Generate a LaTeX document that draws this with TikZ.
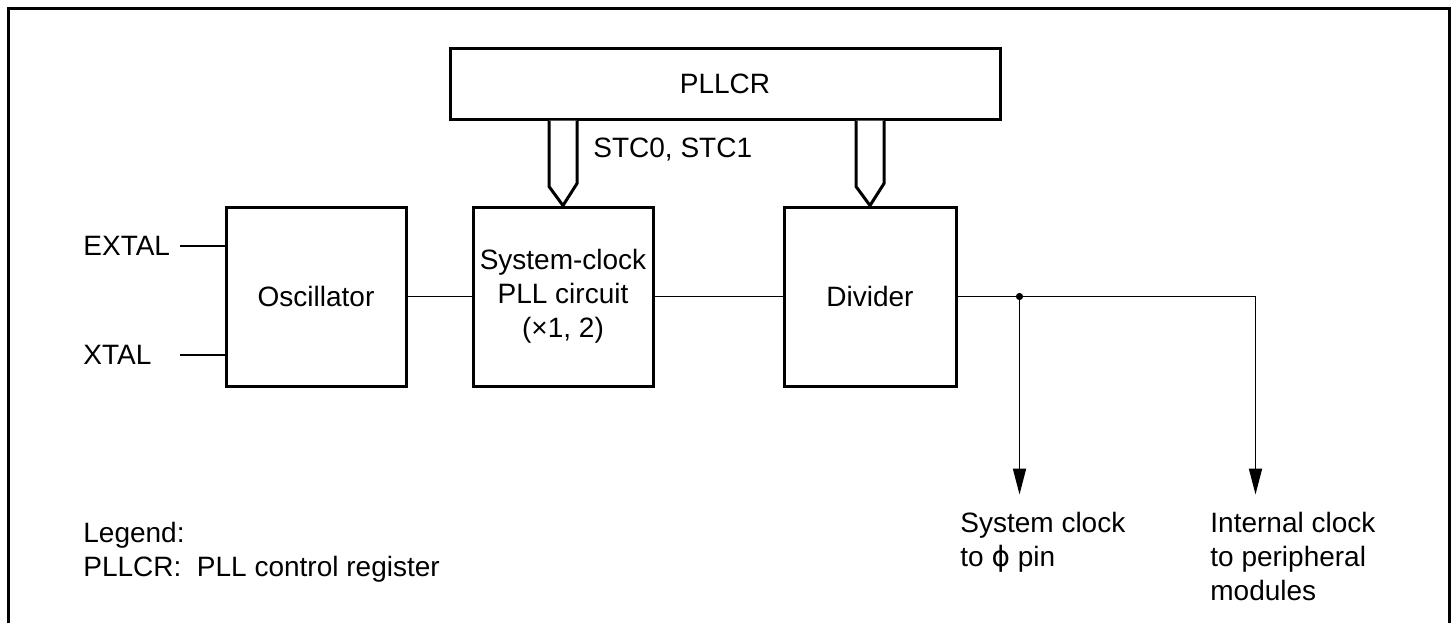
\documentclass[tikz,border=0pt]{standalone}
\usepackage{fontspec}
\setmainfont{Liberation Sans}
\newfontfamily\symfont{DejaVu Sans}
\usetikzlibrary{arrows.meta,calc,positioning}

\begin{document}
\begin{tikzpicture}[x=0.5pt,y=-0.5pt,>={Triangle[length=13pt,width=6.5pt]},
  every node/.style={font=\fontsize{14}{17}\selectfont},
  blk/.style={draw,line width=1.5pt,minimum width=90pt,minimum height=89.5pt,align=center,inner sep=0pt},
  bus/.style={draw,line width=1.5pt,fill=white,line join=miter},
  sig/.style={line width=0.9pt},
  lbl/.style={inner sep=0pt,align=left}]
\useasboundingbox (0,0) rectangle (1455,623);
\draw[line width=1.7pt] (8.5,623) -- (8.5,8.5) -- (1449.5,8.5) -- (1449.5,623);
% blocks
\node[blk] (osc) at (316,296.5) {Oscillator};
\node[blk,right=32pt of osc] (pll) {System-clock\\PLL circuit\\(×1, 2)};
\node[blk,minimum width=86pt,right=64pt of pll] (div) {Divider};
\node[draw,line width=1.5pt,minimum width=275pt,minimum height=35.5pt,inner sep=0pt] (pllcr) at (725,83.5) {PLLCR};
% control buses
\foreach \b in {pll,div}
  \draw[bus] ($(\b.north |- pllcr.south)+(-14,0)$) -- ++(0,66) -- (\b.north) -- ++(14,-22) -- ($(\b.north |- pllcr.south)+(14,0)$);
\node[lbl,anchor=west] (stc) at (593,150) {STC0, STC1};
% pins
\node[lbl,anchor=west] (extal) at (83,246) {EXTAL};
\node[lbl,anchor=west] (xtal) at (83,355) {XTAL};
\coordinate (extalpin) at (180,246);
\coordinate (xtalpin) at (180,355);
\draw[sig] (extalpin) -- (extalpin -| osc.west);
\draw[sig] (xtalpin) -- (xtalpin -| osc.west);
\draw[sig] (osc) -- (pll);
\draw[sig] (pll) -- (div);
% outputs
\coordinate (tap) at ($(div.east)+(62,0)$);
\coordinate (sysout) at ($(tap)+(0,198)$);
\coordinate (intout) at ($(tap)+(236,198)$);
\fill (tap) circle (1.8pt);
\draw[sig,->] (tap) -- (sysout);
\draw[sig,->] (div.east) -| (intout);
\node[lbl,anchor=north west] (sysclk) at (960,512) {System clock\\to {\symfont ϕ} pin};
\node[lbl,anchor=north west] (intclk) at (1210,512) {Internal clock\\to peripheral\\modules};
% legend
\node[lbl,anchor=north west] (legend) at (83,522) {Legend:\\PLLCR:\ \ PLL control register};
\end{tikzpicture}
\end{document}
